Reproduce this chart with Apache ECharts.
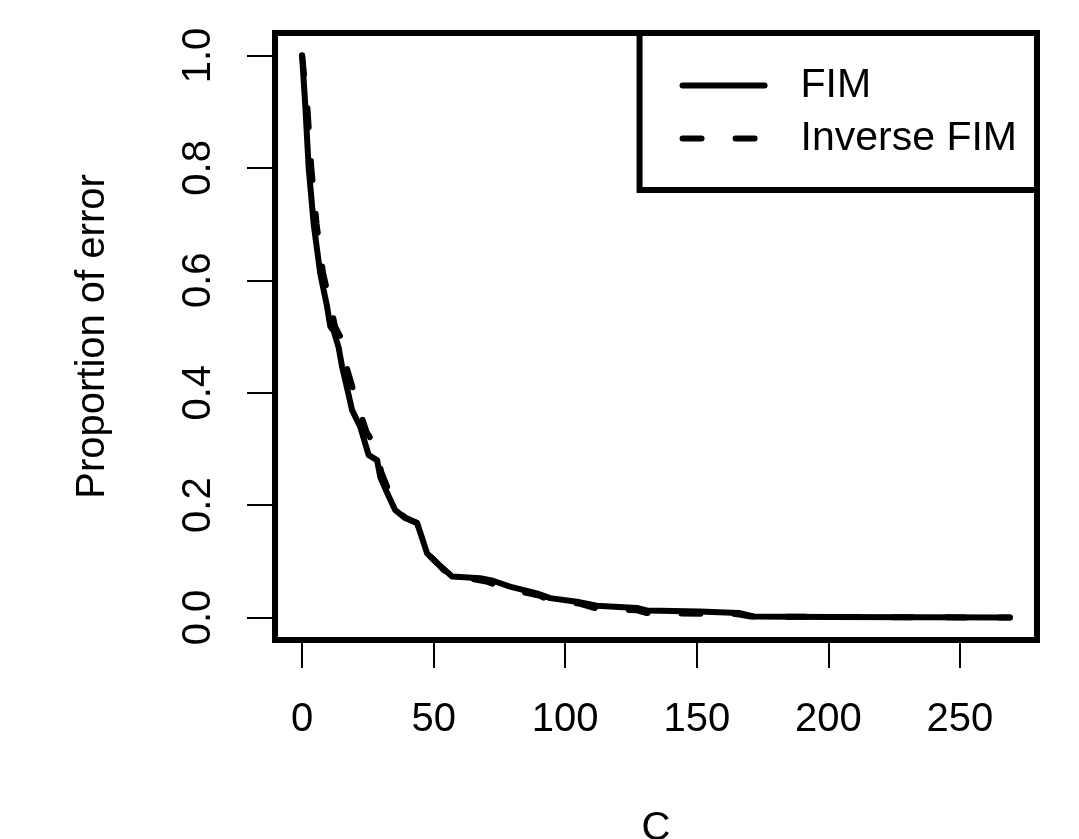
<!DOCTYPE html>
<html lang="en">
<head>
  <meta charset="UTF-8">
  <title>Proportion of error</title>
  <script src="https://cdn.jsdelivr.net/npm/echarts@6/dist/echarts.min.js"></script>
</head>
<body style="margin:0;background:#fff">
  <div id="chart" style="width:1079px;height:839px;"></div>
  <script>
    // values: [C, proportion]
    const fimData = [
      [0, 1.0], [1.25, 0.908], [2.5, 0.8], [4.4, 0.7], [6.9, 0.612], [9.5, 0.553],
      [10.7, 0.518], [12, 0.51], [13.9, 0.48], [15.2, 0.446], [17, 0.41], [19, 0.369],
      [22.1, 0.339], [25.3, 0.289], [28.5, 0.28], [29.7, 0.25], [32, 0.225], [35.4, 0.191],
      [39.2, 0.177], [43.7, 0.168], [45, 0.15], [47.5, 0.114], [51.3, 0.097], [57, 0.073],
      [67.7, 0.07], [72, 0.066], [75.3, 0.061], [79, 0.055], [89.2, 0.043], [94.3, 0.0345],
      [104.4, 0.028], [112, 0.021], [127.2, 0.017], [131, 0.0125], [151, 0.0107],
      [166, 0.008], [171.5, 0.002], [200, 0.001], [269, 0]
    ]
    const inverseFimData = [
      [0, 1.0], [2, 0.908], [3.5, 0.8], [5.5, 0.7], [8, 0.612], [11, 0.553],
      [12.5, 0.518], [14.5, 0.5], [16, 0.46], [18.5, 0.42], [21, 0.38], [24.5, 0.33],
      [28.5, 0.3], [30, 0.26], [33, 0.225], [36, 0.19], [39.5, 0.177], [43.7, 0.168],
      [45, 0.15], [47.5, 0.114], [51.3, 0.097], [57, 0.068], [62, 0.071], [70, 0.064],
      [76, 0.054], [80, 0.049], [90, 0.039], [95, 0.029], [105, 0.025], [112, 0.016],
      [127, 0.013], [131, 0.008], [165, 0.006], [170, 0.002], [200, 0.001], [269, 0]
    ]
    const xTicks = [0, 50, 100, 150, 200, 250]
    const yTicks = [0, 0.2, 0.4, 0.6, 0.8, 1.0]

    const font = 'Liberation Sans, Arial, Helvetica, sans-serif'
    const chart = echarts.init(document.getElementById('chart'))

    const option = {
      backgroundColor: '#fff',
      animation: false,
      color: ['#000', '#000'],
      textStyle: { fontFamily: font, color: '#000' },
      grid: {
        left: 275, right: 42, top: 33, bottom: 199,
        outerBoundsMode: 'none',
        containLabel: false,
        show: true, borderColor: '#000', borderWidth: 6
      },
      legend: {
        orient: 'vertical',
        right: 42, top: 33,
        padding: [32, 20, 31, 40],
        itemGap: 12,
        itemWidth: 82, itemHeight: 14,
        borderColor: '#000', borderWidth: 6,
        backgroundColor: '#fff',
        itemStyle: { color: 'rgba(0,0,0,0)', borderWidth: 0 },
        lineStyle: { width: 6, cap: 'round' },
        textStyle: { fontSize: 41, color: '#000', fontFamily: font, padding: [0, 0, 0, 31] },
        data: ['FIM', 'Inverse FIM']
      },
      xAxis: {
        type: 'value',
        min: -10.3, max: 279.3,
        name: 'C',
        nameLocation: 'middle',
        nameGap: 169,
        nameTextStyle: { fontSize: 40, color: '#000', fontFamily: font },
        axisLine: { show: false, onZero: false },
        splitLine: { show: false },
        axisTick: { show: true, inside: false, length: 28, customValues: xTicks, lineStyle: { color: '#000', width: 2 } },
        axisLabel: { customValues: xTicks, margin: 60, fontSize: 40, color: '#000', fontFamily: font }
      },
      yAxis: {
        type: 'value',
        min: -0.04, max: 1.04,
        name: 'Proportion of error',
        nameLocation: 'middle',
        nameRotate: 90,
        nameGap: 162,
        nameTextStyle: { fontSize: 40, color: '#000', fontFamily: font },
        axisLine: { show: false, onZero: false },
        splitLine: { show: false },
        axisTick: { show: true, inside: false, length: 28, customValues: yTicks, lineStyle: { color: '#000', width: 2 } },
        axisLabel: {
          customValues: yTicks, rotate: 90, margin: 56, fontSize: 40, color: '#000', fontFamily: font,
          formatter: v => v.toFixed(1)
        }
      },
      series: [
        {
          name: 'FIM',
          type: 'line',
          data: fimData,
          symbol: 'none',
          itemStyle: { color: '#000' },
          lineStyle: { color: '#000', width: 6, cap: 'round', join: 'round' }
        },
        {
          name: 'Inverse FIM',
          type: 'line',
          data: inverseFimData,
          symbol: 'none',
          itemStyle: { color: '#000' },
          lineStyle: { color: '#000', width: 6, type: [19, 34], cap: 'round', join: 'round' }
        }
      ]
    }

    chart.setOption(option)
  </script>
</body>
</html>
